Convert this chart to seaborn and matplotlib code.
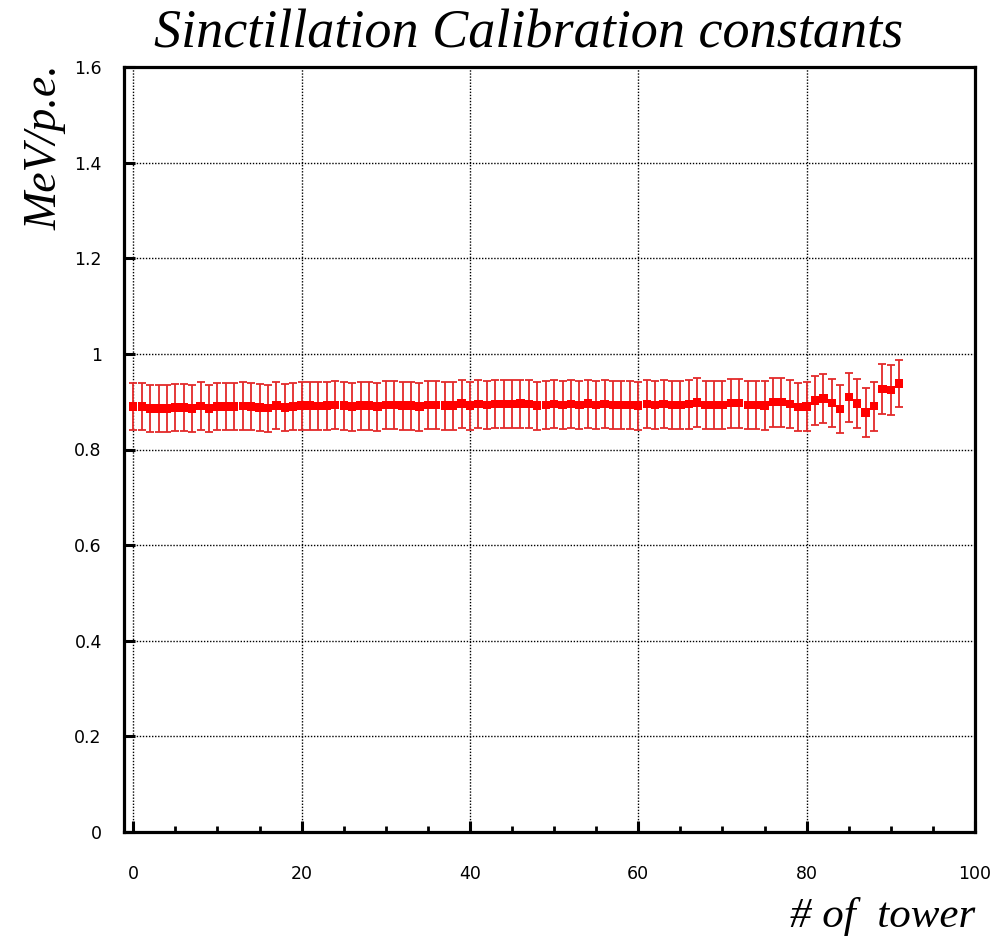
import numpy as np
import pandas as pd
import matplotlib
matplotlib.use("Agg")
import matplotlib.pyplot as plt
from matplotlib.ticker import MultipleLocator
import seaborn as sns

towers = list(range(92))
constants = [
    0.8896, 0.8896, 0.8855, 0.8855, 0.8855, 0.8875, 0.8875, 0.8855, 0.8910, 0.8855,
    0.8896, 0.8896, 0.8896, 0.8910, 0.8896, 0.8875, 0.8862, 0.8917, 0.8875, 0.8896,
    0.8917, 0.8917, 0.8910, 0.8917, 0.8931, 0.8917, 0.8896, 0.8917, 0.8917, 0.8896,
    0.8931, 0.8931, 0.8917, 0.8917, 0.8896, 0.8931, 0.8931, 0.8917, 0.8917, 0.8959,
    0.8917, 0.8952, 0.8931, 0.8945, 0.8945, 0.8952, 0.8959, 0.8945, 0.8917, 0.8931,
    0.8945, 0.8931, 0.8945, 0.8931, 0.8959, 0.8931, 0.8952, 0.8931, 0.8931, 0.8931,
    0.8917, 0.8945, 0.8931, 0.8945, 0.8931, 0.8931, 0.8945, 0.8980, 0.8931, 0.8931,
    0.8931, 0.8966, 0.8966, 0.8931, 0.8931, 0.8917, 0.8987, 0.8987, 0.8952, 0.8882,
    0.8896, 0.9022, 0.9064, 0.8966, 0.8841, 0.9092, 0.8959, 0.8771, 0.8903, 0.9259,
    0.9245, 0.9378,
]
errors = (
    [0.0495] * 20 + [0.0500] * 20 + [0.0505] * 25 + [0.0512] * 14 +
    [0.0505, 0.0510, 0.0512, 0.0516, 0.0505, 0.0505, 0.0512, 0.0512, 0.0505, 0.0510,
     0.0523, 0.0523, 0.0495]
)
xtick_vals = [0, 20, 40, 60, 80, 100]
xtick_labels = ["0", "20", "40", "60", "80", "100"]
ytick_vals = [0, 0.2, 0.4, 0.6, 0.8, 1.0, 1.2, 1.4, 1.6]
ytick_labels = ["0", "0.2", "0.4", "0.6", "0.8", "1", "1.2", "1.4", "1.6"]

df = pd.DataFrame({"tower": towers, "const": constants, "err": errors})

sns.set_style("white", {"text.color": "black", "axes.labelcolor": "black",
                        "xtick.color": "black", "ytick.color": "black",
                        "axes.edgecolor": "black"})
fig = plt.figure(figsize=(10.08, 9.40), dpi=100)
ax = fig.add_axes([124 / 1008, 1 - 832 / 940, (975 - 124) / 1008, (832 - 67) / 940])

ax.errorbar(df["tower"], df["const"], yerr=df["err"], fmt="none",
            ecolor="#e32a2a", elinewidth=1.3, capsize=3.2, capthick=1.3, zorder=3)
sns.scatterplot(data=df, x="tower", y="const", marker="s", s=36, color="#ff0000",
                edgecolor="none", linewidth=0, ax=ax, zorder=4)

ax.set_xlim(-1.1, 100)
ax.set_ylim(0, 1.6)
ax.set_xticks(xtick_vals)
ax.set_xticklabels(xtick_labels)
ax.xaxis.set_minor_locator(MultipleLocator(5))
ax.set_yticks(ytick_vals)
ax.set_yticklabels(ytick_labels)

ax.grid(True, which="major", color="black", linestyle=(0, (1, 1.2)), linewidth=1.0)
ax.set_axisbelow(True)

for s in ax.spines.values():
    s.set_visible(True)
    s.set_color("black")
    s.set_linewidth(2.3)

ax.tick_params(axis="x", which="major", direction="in", length=8, width=2.2,
               pad=24, labelsize=12.5, bottom=True, top=False, colors="black")
ax.tick_params(axis="x", which="minor", direction="in", length=4, width=2.0,
               bottom=True, top=False)
ax.tick_params(axis="y", which="major", direction="in", length=8, width=2.2,
               pad=16, labelsize=12.5, left=True, right=False, colors="black")
for lab in ax.get_xticklabels() + ax.get_yticklabels():
    lab.set_family("DejaVu Sans")
    lab.set_color("black")

serif = ["Liberation Serif", "DejaVu Serif"]
ax.set_title("Sinctillation Calibration constants", fontsize=39, family=serif,
             style="italic", pad=14, x=0.475, color="black")
ax.set_xlabel("# of  tower", fontsize=31, family=serif, style="italic", color="black")
ax.xaxis.set_label_coords(1.0, -0.111)
ax.xaxis.label.set_ha("right")
ax.xaxis.label.set_va("center")
ax.set_ylabel("MeV/p.e.", fontsize=33, family=serif, style="italic", color="black")
ax.yaxis.set_label_coords(-0.118, 1.003)
ax.yaxis.label.set_va("top")
ax.yaxis.label.set_ha("right")

fig.savefig("out.png", dpi=100, facecolor="white")
